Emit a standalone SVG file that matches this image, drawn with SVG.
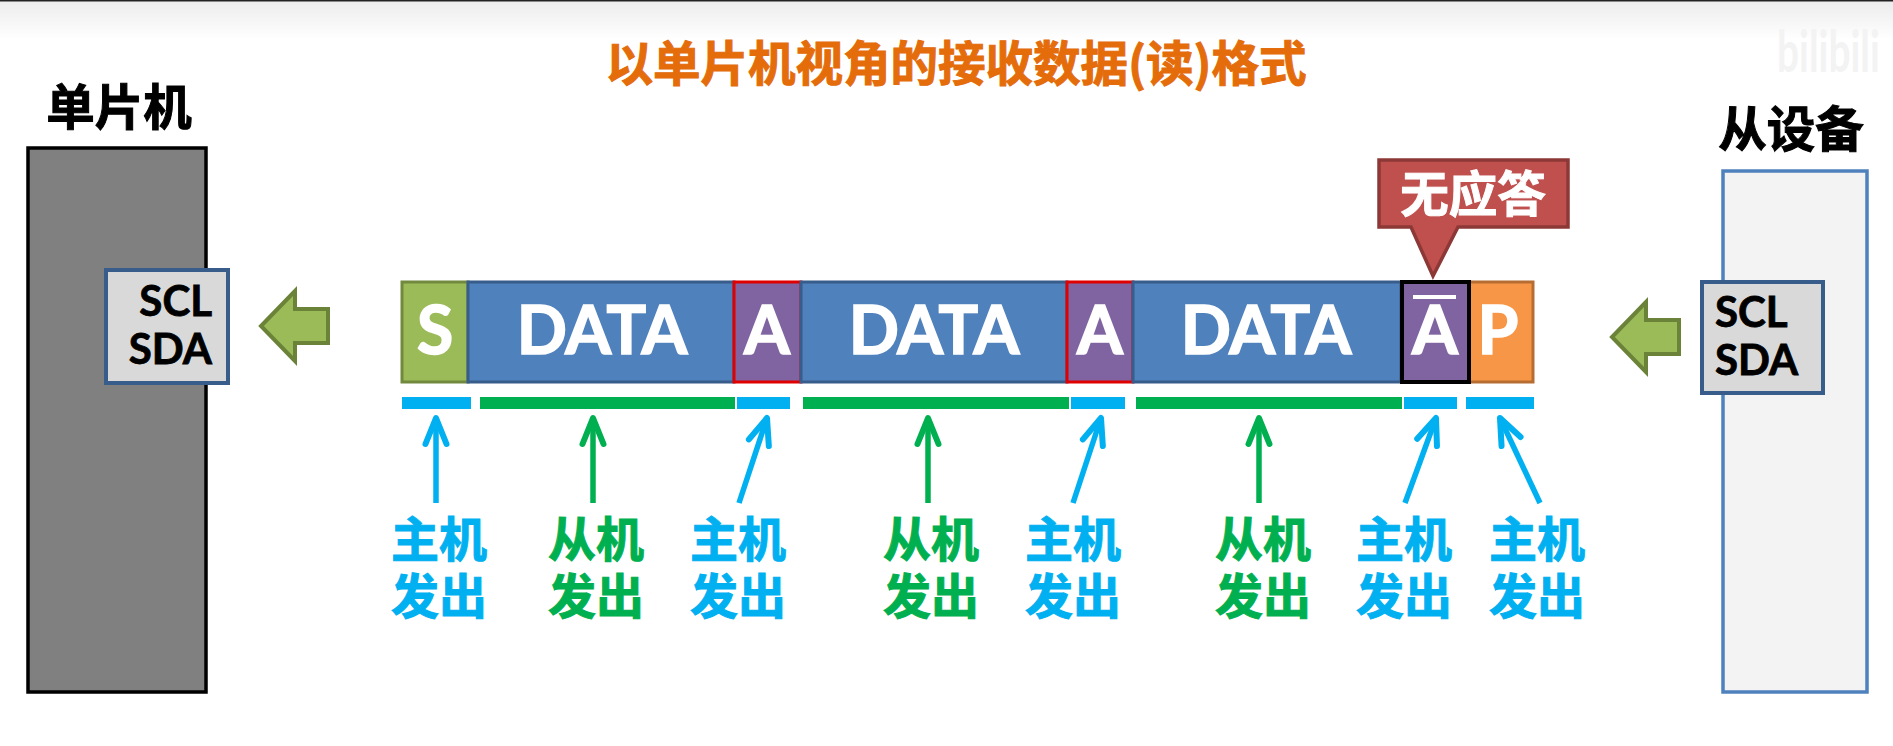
<svg xmlns="http://www.w3.org/2000/svg" width="1893" height="746" viewBox="0 0 1893 746">
<defs>
<linearGradient id="top" x1="0" y1="0" x2="0" y2="1"><stop offset="0" stop-color="#ebebeb"/><stop offset="1" stop-color="#ffffff"/></linearGradient>
<marker id="hb" markerUnits="userSpaceOnUse" viewBox="-36 -18 50 36" refX="0" refY="0" markerWidth="50" markerHeight="36" orient="auto"><path d="M-26 -10.500L0 0L-26 10.500" fill="none" stroke="#00b0f0" stroke-width="6" stroke-linecap="round" stroke-linejoin="round"/></marker>
<marker id="hg" markerUnits="userSpaceOnUse" viewBox="-36 -18 50 36" refX="0" refY="0" markerWidth="50" markerHeight="36" orient="auto"><path d="M-26 -10.500L0 0L-26 10.500" fill="none" stroke="#00b050" stroke-width="6" stroke-linecap="round" stroke-linejoin="round"/></marker>
</defs>
<style>
text{font-family:"Noto Sans CJK SC","Noto Sans",sans-serif;font-weight:700;text-anchor:middle}
.lat{font-family:Lato,"Open Sans",sans-serif}
.big{font-size:66px;fill:#fff;stroke:#fff;stroke-width:1.6}
.lab{font-size:48px;stroke-width:1}
.head{font-size:48.500px;fill:#000;stroke:#000;stroke-width:1}
.pin{font-size:42px;fill:#000;stroke:#000;stroke-width:.8}
.b{fill:#00b0f0;stroke:#00b0f0}.g{fill:#00b050;stroke:#00b050}
.cell{stroke-width:3}
.data{fill:#4f81bd;stroke:#385d8a}
.ack{fill:#8064a2;stroke:#e00000;stroke-width:3}
.pinbox{fill:#d9d9d9;stroke:#385d8a;stroke-width:4}
.block{fill:#9bbb59;stroke:#6b8339;stroke-width:4}
.bar{stroke:none}
.ab{stroke:#00b0f0}.ag{stroke:#00b050}
.ab,.ag{stroke-width:5.500;fill:none}
</style>
<rect width="1893" height="746" fill="#fff"/>
<rect width="1893" height="40" fill="url(#top)"/>
<rect width="1893" height="1.500" fill="#222"/>
<text transform="translate(1777,72) scale(.67,1)" font-size="58" class="lat" style="text-anchor:start" fill="#f3f3f3">bilibili</text>
<text id="title" x="956" y="81" font-size="47.500" fill="#e46c0a" stroke="#e46c0a" stroke-width="1">以单片机视角的接收数据(读)格式</text>

<g id="mcu">
<text class="head" x="119" y="125">单片机</text>
<rect x="28" y="148" width="178" height="544" fill="#808080" stroke="#000" stroke-width="3.500"/>
</g>
<g id="mcu-pins">
<rect class="pinbox" x="106" y="270" width="122" height="113"/>
<text class="lat pin" x="212" y="316" style="text-anchor:end">SCL</text>
<text class="lat pin" x="212" y="364" style="text-anchor:end">SDA</text>
</g>
<g id="slave">
<text class="head" x="1791" y="147">从设备</text>
<rect x="1723" y="171" width="144" height="521" fill="#f3f3f3" stroke="#4f81bd" stroke-width="3.500"/>
</g>
<g id="slave-pins">
<rect class="pinbox" x="1702" y="282" width="121" height="111"/>
<text class="lat pin" x="1715" y="327" style="text-anchor:start">SCL</text>
<text class="lat pin" x="1715" y="375" style="text-anchor:start">SDA</text>
</g>

<g id="frame">
<g id="cell-s"><rect class="cell" x="402" y="282" width="66" height="100" fill="#9bbb59" stroke="#71893f"/><text class="lat big" x="435" y="354">S</text></g>
<g id="cell-data1"><rect class="cell data" x="468" y="282" width="266" height="100"/><text class="lat big" x="602" y="354">DATA</text></g>
<g id="cell-a1"><rect class="ack" x="734" y="282" width="67" height="100"/><text class="lat big" x="767" y="354">A</text></g>
<g id="cell-data2"><rect class="cell data" x="801" y="282" width="266" height="100"/><text class="lat big" x="934" y="354">DATA</text></g>
<g id="cell-a2"><rect class="ack" x="1067" y="282" width="66" height="100"/><text class="lat big" x="1100" y="354">A</text></g>
<g id="cell-data3"><rect class="cell data" x="1133" y="282" width="268" height="100"/><text class="lat big" x="1266" y="354">DATA</text></g>
<g id="cell-p"><rect class="cell" x="1469" y="282" width="64" height="100" fill="#f79646" stroke="#b66d31"/><text class="lat big" x="1498" y="354">P</text></g>
<g id="cell-nack"><rect x="1402" y="282" width="67" height="100" fill="#8064a2" stroke="#000" stroke-width="4"/><text class="lat big" x="1435" y="354">A</text><rect x="1413" y="295" width="43" height="4" fill="#fff"/></g>
</g>

<g id="nack-callout">
<path d="M1379 160H1568V227H1458L1433 276L1411 227H1379Z" fill="#c0504d" stroke="#8c3836" stroke-width="3.500"/>
<text x="1473" y="212" font-size="48.500" fill="#fff" stroke="#fff" stroke-width="1">无应答</text>
</g>

<g id="bars">
<rect class="b bar" x="402" y="397" width="69" height="12"/>
<rect class="g bar" x="480" y="397" width="255" height="12"/>
<rect class="b bar" x="737" y="397" width="53" height="12"/>
<rect class="g bar" x="803" y="397" width="266" height="12"/>
<rect class="b bar" x="1071" y="397" width="54" height="12"/>
<rect class="g bar" x="1136" y="397" width="266" height="12"/>
<rect class="b bar" x="1404" y="397" width="53" height="12"/>
<rect class="b bar" x="1466" y="397" width="68" height="12"/>
</g>

<g id="connectors">
<path class="block" d="M328 309H295V291L261 326L295 361V343H328Z"/>
<path class="block" d="M1679 320H1646V302L1612 337L1646 372V354H1679Z"/>
<path class="ab" marker-end="url(#hb)" d="M436 503V418"/>
<path class="ag" marker-end="url(#hg)" d="M593 503V418"/>
<path class="ab" marker-end="url(#hb)" d="M739 503L767 418"/>
<path class="ag" marker-end="url(#hg)" d="M928 503V418"/>
<path class="ab" marker-end="url(#hb)" d="M1073 503L1101 418"/>
<path class="ag" marker-end="url(#hg)" d="M1259 503V418"/>
<path class="ab" marker-end="url(#hb)" d="M1405 503L1436 418"/>
<path class="ab" marker-end="url(#hb)" d="M1540 503L1500 418"/>
</g>

<g id="labels">
<g id="l1" class="lab b"><text x="439" y="557">主机</text><text x="439" y="614">发出</text></g>
<g id="l2" class="lab g"><text x="596" y="557">从机</text><text x="596" y="614">发出</text></g>
<g id="l3" class="lab b"><text x="738" y="557">主机</text><text x="738" y="614">发出</text></g>
<g id="l4" class="lab g"><text x="931" y="557">从机</text><text x="931" y="614">发出</text></g>
<g id="l5" class="lab b"><text x="1073" y="557">主机</text><text x="1073" y="614">发出</text></g>
<g id="l6" class="lab g"><text x="1263" y="557">从机</text><text x="1263" y="614">发出</text></g>
<g id="l7" class="lab b"><text x="1404" y="557">主机</text><text x="1404" y="614">发出</text></g>
<g id="l8" class="lab b"><text x="1537" y="557">主机</text><text x="1537" y="614">发出</text></g>
</g>
</svg>
